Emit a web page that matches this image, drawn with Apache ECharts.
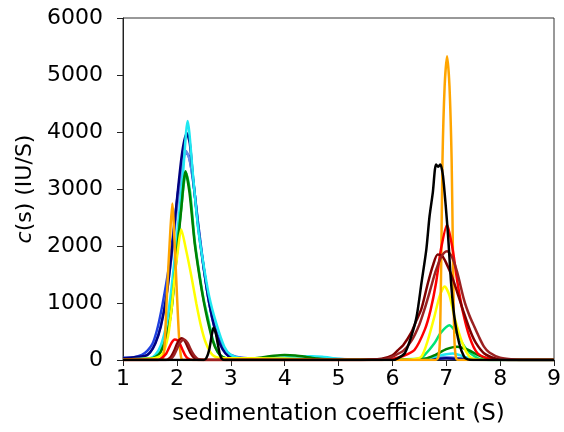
<!DOCTYPE html>
<html>
<head>
<meta charset="utf-8">
<script src="https://cdn.jsdelivr.net/npm/echarts@6/dist/echarts.min.js"></script>
<style>html,body{margin:0;padding:0;background:#fff;}#chart{width:564px;height:432px;}</style>
</head>
<body>
<div id="chart"></div>
<script>
// x: sedimentation coefficient (S), y: c(s) (IU/S)
const xTicks = [1, 2, 3, 4, 5, 6, 7, 8, 9];
const yTicks = [0, 1000, 2000, 3000, 4000, 5000, 6000];

const blueCurve = [[1.0,40],[1.2,50],[1.35,90],[1.45,160],[1.55,290],[1.63,520],[1.71,860],[1.8,1330],[1.88,1800],[1.96,2450],[2.05,3150],[2.15,3650],[2.22,3580],[2.3,3150],[2.4,2350],[2.5,1600],[2.6,1000],[2.7,600],[2.8,330],[2.9,170],[3.0,90],[3.2,40],[3.5,30],[4.0,30],[4.5,40],[5.0,15],[5.5,5],[6.0,5],[6.5,10],[6.8,30],[7.0,40],[7.2,30],[7.5,10],[8.0,5],[9.0,0]];
const cornflowerCurve = [[1.0,20],[1.4,60],[1.5,130],[1.6,300],[1.7,600],[1.8,1100],[1.9,1800],[2.0,2650],[2.1,3400],[2.17,3665],[2.24,3500],[2.3,3150],[2.4,2350],[2.5,1620],[2.6,1000],[2.7,560],[2.8,280],[2.9,130],[3.0,60],[3.5,20],[4.5,30],[5.5,5],[6.5,10],[7.0,50],[7.5,10],[9.0,0]];
const navyCurve = [[1.0,30],[1.4,70],[1.5,130],[1.6,290],[1.7,580],[1.8,1080],[1.9,1850],[2.0,2800],[2.1,3650],[2.185,3977],[2.24,3800],[2.3,3200],[2.4,2300],[2.5,1600],[2.6,1000],[2.7,560],[2.8,280],[2.9,120],[3.0,50],[3.5,10],[6.5,5],[7.0,30],[7.5,5],[9.0,0]];
const cyanCurve = [[1.0,10],[1.5,30],[1.6,90],[1.7,250],[1.8,600],[1.88,1100],[1.95,1700],[2.02,2346],[2.11,3226],[2.2,4193],[2.3,3226],[2.39,2346],[2.48,1760],[2.6,1114],[2.73,646],[2.88,234],[3.0,90],[3.2,25],[3.6,15],[3.8,30],[4.0,45],[4.3,60],[4.5,65],[4.7,55],[5.0,20],[5.3,5],[6.0,5],[6.6,20],[6.8,60],[7.0,100],[7.12,115],[7.25,85],[7.4,40],[7.6,10],[8.0,0],[9.0,0]];
const darkGreenCurve = [[1.0,5],[1.5,20],[1.6,50],[1.7,140],[1.81,410],[1.9,880],[1.99,1760],[2.08,2640],[2.16,3313],[2.235,2933],[2.33,2053],[2.42,1466],[2.5,1020],[2.57,700],[2.66,352],[2.75,150],[2.85,50],[3.0,20],[3.3,20],[3.6,50],[3.8,75],[4.0,88],[4.2,80],[4.4,55],[4.6,25],[4.9,5],[6.0,5],[6.6,20],[6.8,90],[7.0,190],[7.2,234],[7.4,180],[7.6,80],[7.8,20],[8.0,5],[9.0,0]];
const springGreenCurve = [[1.0,5],[1.5,20],[1.6,55],[1.7,150],[1.81,440],[1.9,920],[1.99,1800],[2.08,2650],[2.17,3290],[2.245,2950],[2.33,2100],[2.42,1500],[2.5,1050],[2.58,720],[2.67,350],[2.76,140],[2.86,45],[3.0,15],[3.5,10],[4.0,10],[5.5,5],[6.5,20],[6.6,88],[6.78,293],[6.9,480],[7.06,610],[7.2,460],[7.3,293],[7.4,160],[7.49,88],[7.6,25],[7.75,5],[8.0,0],[9.0,0]];
const yellowCurve = [[1.0,10],[1.4,20],[1.6,35],[1.74,118],[1.835,410],[1.9,880],[1.96,1466],[2.02,1935],[2.08,2288],[2.17,1935],[2.27,1466],[2.36,997],[2.45,586],[2.54,293],[2.66,88],[2.8,35],[3.0,30],[3.5,30],[4.0,25],[4.5,10],[5.0,5],[6.0,5],[6.4,15],[6.54,60],[6.66,352],[6.78,762],[6.88,1130],[6.97,1290],[7.06,1130],[7.15,762],[7.3,293],[7.43,60],[7.55,10],[7.8,0],[9.0,0]];
const orangeCurve = [[1.0,0],[1.65,0],[1.74,30],[1.774,293],[1.817,1173],[1.866,2053],[1.915,2745],[1.958,2053],[2.0,1173],[2.04,410],[2.08,40],[2.12,0],[6.8,0],[6.85,40],[6.88,300],[6.905,1600],[6.93,3500],[6.97,4800],[7.015,5330],[7.06,4800],[7.1,3500],[7.125,1800],[7.15,400],[7.18,40],[7.22,0],[9.0,0]];
const redCurve = [[1.0,0],[1.65,0],[1.7,20],[1.8,110],[1.9,300],[1.96,360],[2.0,350],[2.05,290],[2.1,190],[2.15,90],[2.2,30],[2.3,0],[5.8,0],[6.0,20],[6.2,70],[6.41,176],[6.6,528],[6.71,880],[6.81,1350],[6.9,1935],[7.015,2375],[7.12,1935],[7.21,1350],[7.3,880],[7.43,410],[7.58,118],[7.8,20],[8.0,5],[8.3,0],[9.0,0]];
const maroonCurve = [[1.0,0],[1.8,0],[1.85,20],[1.9,70],[1.95,160],[2.0,280],[2.05,360],[2.09,380],[2.15,330],[2.2,230],[2.25,130],[2.3,60],[2.35,20],[2.4,0],[5.4,0],[5.8,20],[6.0,80],[6.1,170],[6.2,260],[6.35,480],[6.45,700],[6.54,900],[6.66,1350],[6.75,1650],[6.84,1850],[6.92,1830],[7.0,1700],[7.1,1480],[7.2,1200],[7.33,820],[7.45,500],[7.55,300],[7.7,120],[7.9,30],[8.1,5],[8.4,0],[9.0,0]];
const brownCurve = [[1.0,0],[1.85,0],[1.9,30],[1.95,90],[2.0,190],[2.05,290],[2.1,350],[2.13,360],[2.2,300],[2.25,200],[2.3,110],[2.35,50],[2.4,15],[2.5,0],[5.5,0],[5.9,20],[6.0,60],[6.2,160],[6.35,330],[6.5,620],[6.6,900],[6.7,1220],[6.8,1550],[6.9,1800],[6.96,1880],[7.015,1906],[7.1,1820],[7.2,1550],[7.33,1056],[7.43,780],[7.52,586],[7.6,420],[7.7,234],[7.8,130],[8.0,40],[8.3,5],[8.6,0],[9.0,0]];
const blackCurve = [[1.0,0],[2.5,0],[2.55,40],[2.6,180],[2.65,450],[2.68,565],[2.72,480],[2.76,280],[2.8,90],[2.84,15],[2.9,0],[6.0,0],[6.1,30],[6.23,118],[6.35,410],[6.45,762],[6.54,1350],[6.63,1935],[6.69,2522],[6.75,2933],[6.81,3431],[6.85,3390],[6.89,3431],[6.94,3226],[7.03,2229],[7.09,1350],[7.15,762],[7.24,293],[7.33,60],[7.4,10],[7.5,0],[9.0,0]];

const curves = [
  {data: blueCurve, color: '#2040e0'},
  {data: cornflowerCurve, color: '#6890e8'},
  {data: navyCurve, color: '#000080'},
  {data: cyanCurve, color: '#20e8f2'},
  {data: springGreenCurve, color: '#00e676'},
  {data: darkGreenCurve, color: '#008000'},
  {data: yellowCurve, color: '#ffff00'},
  {data: orangeCurve, color: '#ffa500'},
  {data: redCurve, color: '#ff0000'},
  {data: maroonCurve, color: '#800000'},
  {data: brownCurve, color: '#9b2222'},
  {data: blackCurve, color: '#000000'}
];

const FONT = 'DejaVu Sans';
const chart = echarts.init(document.getElementById('chart'), null, {renderer: 'canvas'});
chart.setOption({
  animation: false,
  backgroundColor: '#ffffff',
  grid: {left: 123, right: 7, top: 18, bottom: 72, show: true, borderColor: '#333', borderWidth: 1, backgroundColor: 'transparent'},
  xAxis: {
    type: 'value', min: xTicks[0], max: xTicks[xTicks.length - 1], interval: 1,
    name: 'sedimentation coefficient (S)', nameLocation: 'middle', nameGap: 43,
    nameTextStyle: {fontFamily: FONT, fontSize: 23, color: '#000'},
    axisLine: {show: true, onZero: false, lineStyle: {color: '#222', width: 1}},
    axisTick: {show: true, inside: false, length: 6, lineStyle: {color: '#222'}},
    axisLabel: {fontFamily: FONT, fontSize: 22, color: '#000', margin: 8, formatter: v => String(v)},
    splitLine: {show: false}
  },
  yAxis: {
    type: 'value', min: yTicks[0], max: yTicks[yTicks.length - 1], interval: 1000,
    name: '{i|c}(s) (IU/S)', nameLocation: 'middle', nameGap: 86, nameRotate: 90,
    nameTextStyle: {fontFamily: FONT, fontSize: 22, color: '#000', rich: {i: {fontFamily: FONT, fontSize: 22, fontStyle: 'italic', color: '#000'}}},
    axisLine: {show: true, lineStyle: {color: '#222', width: 1}},
    axisTick: {show: true, inside: false, length: 6, lineStyle: {color: '#222'}},
    axisLabel: {fontFamily: FONT, fontSize: 22, color: '#000', margin: 20, formatter: v => String(v)},
    splitLine: {show: false}
  },
  series: curves.map(c => ({
    type: 'line', data: c.data, showSymbol: false, smooth: 0.25,
    lineStyle: {color: c.color, width: 2.5}, itemStyle: {color: c.color}, silent: true
  }))
});
</script>
</body>
</html>
